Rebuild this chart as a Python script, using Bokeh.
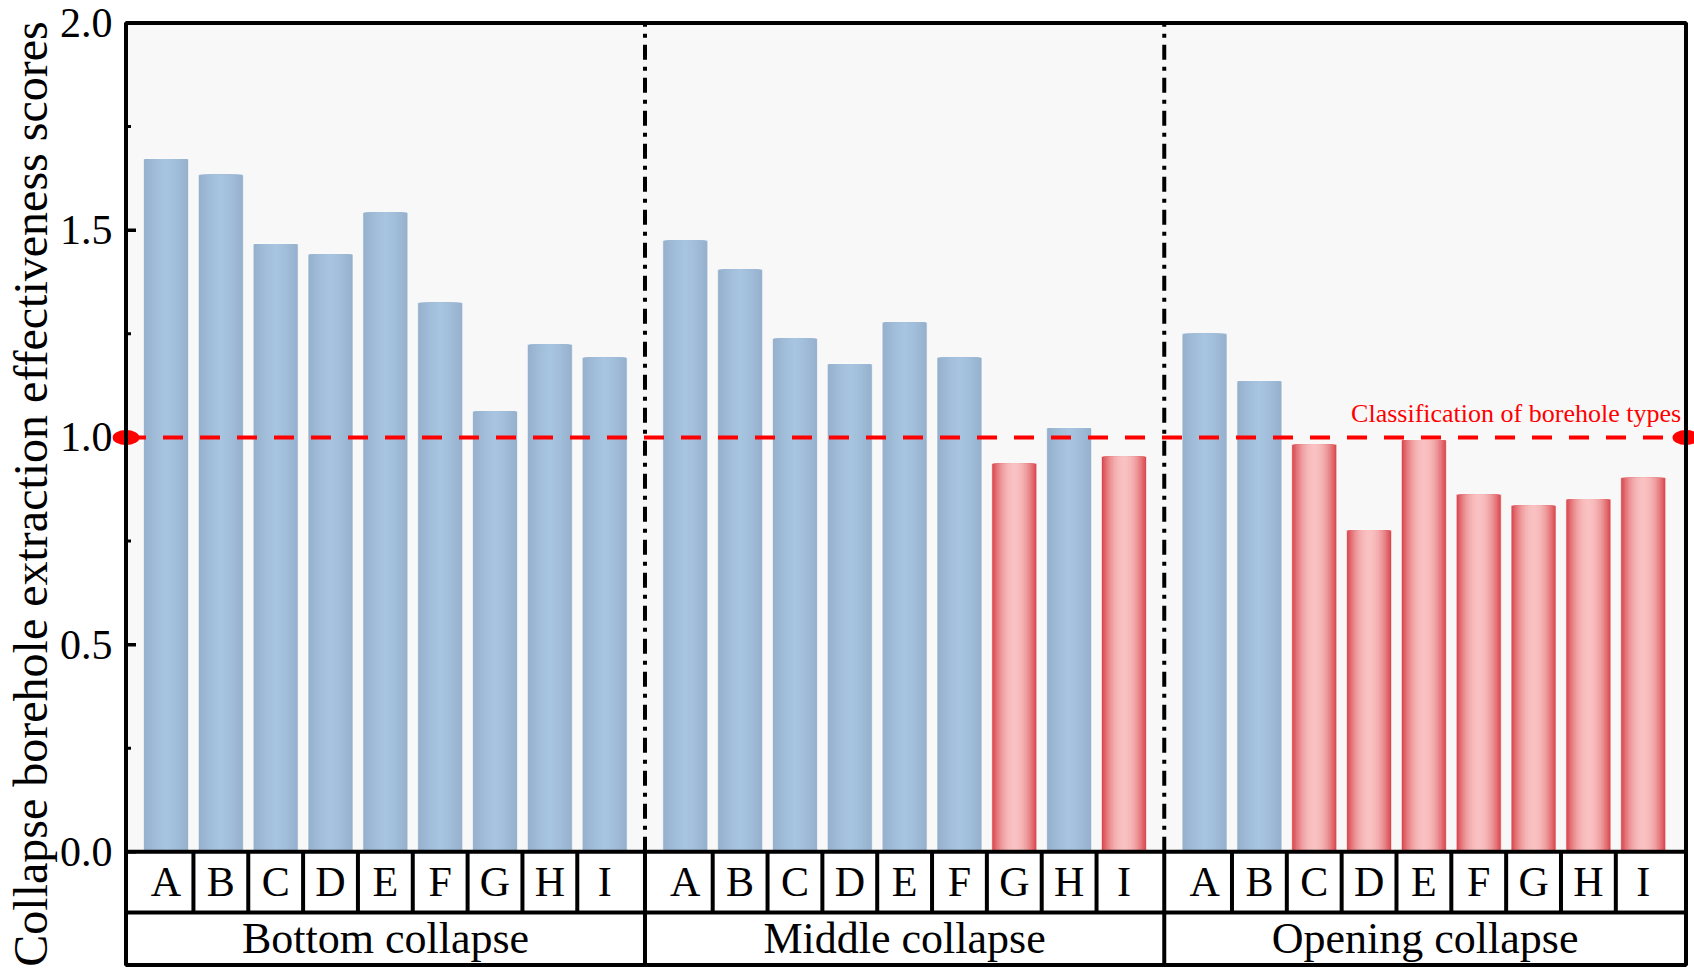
from bokeh.plotting import figure
from bokeh.models import Range1d, FixedTicker, PrintfTickFormatter, BoxAnnotation
from bokeh.core.properties import value
from bokeh.embed import file_html
from bokeh.resources import INLINE

# ---------------- data ----------------
groups = ["Bottom collapse", "Middle collapse", "Opening collapse"]
letters = ["A", "B", "C", "D", "E", "F", "G", "H", "I"]
bottom_vals = [1.672, 1.634, 1.467, 1.442, 1.543, 1.325, 1.063, 1.224, 1.193]
middle_vals = [1.475, 1.405, 1.239, 1.177, 1.278, 1.193, 0.937, 1.023, 0.954]
opening_vals = [1.250, 1.136, 0.983, 0.776, 0.994, 0.862, 0.836, 0.851, 0.903]
threshold = 1.0
threshold_label = "Classification of borehole types"
y_ticks = [0.0, 0.5, 1.0, 1.5, 2.0]
y_minor_ticks = [0.25, 0.75, 1.25, 1.75]
y_title = "Collapse borehole extraction effectiveness scores"

# ---------------- layout constants ----------------
FONT = "Liberation Serif"
PAD = 0.73          # axis -> first bar centre
GAP = 0.47          # extra gap between groups
BAR_W = 0.82
X_END = 28.45       # right border
Y_TOP = 2.0
ROW1 = -0.146       # bottom of letter row
ROW2 = -0.273       # bottom of group row
GSTEP = 9 + GAP
XL, XR = -0.246, X_END + 0.155   # frame a little wider than the box so the end markers show
EY = 0.006
PXU = 54.83                      # px per x unit (approx.)
MAJ_LEN, MIN_LEN = 10 / PXU, 5 / PXU

series = [bottom_vals, middle_vals, opening_vals]
xs, vals, labs = [], [], []
for g, sv in enumerate(series):
    for i, v in enumerate(sv):
        xs.append(PAD + g * GSTEP + i)
        vals.append(v)
        labs.append(letters[i])
seps = [PAD + g * GSTEP - (1 + GAP) / 2 for g in (1, 2)]
bounds = [0.0] + seps + [X_END]
centers = [(bounds[k] + bounds[k + 1]) / 2 for k in range(3)]

p = figure(width=1694, height=969, x_range=Range1d(XL, XR), y_range=Range1d(ROW2 - EY, Y_TOP + EY),
           x_axis_location=None, output_backend="svg", toolbar_location=None,
           min_border_top=20, min_border_bottom=2, min_border_right=0, min_border_left=112)
p.background_fill_color = "white"
p.border_fill_color = "white"
p.outline_line_color = None
p.grid.visible = False

# plot-area background
p.add_layout(BoxAnnotation(left=0, right=X_END, bottom=0, top=Y_TOP, fill_color="#f8f8f8",
                           fill_alpha=1, line_color=None, level="underlay"))

# ---------------- gradient bars ----------------
def mix(c1, c2, t):
    return "#%02x%02x%02x" % tuple(int(round(a + (b - a) * t)) for a, b in zip(c1, c2))

blue_c, blue_e = (0xa7, 0xc4, 0xe0), (0x95, 0xb0, 0xcc)
red_c, red_e = (0xf9, 0xc1, 0xc2), (0xd6, 0x40, 0x46)
N = 16
for k in range(N):
    frac = 1 - k / N
    t = 1 - (k + 0.5) / N
    cols = [mix(red_c, red_e, t ** 2.0) if v < threshold else mix(blue_c, blue_e, t ** 1.3) for v in vals]
    if k == 0:
        kw = dict(line_color="white", line_alpha=0.6, line_width=1)
    else:
        kw = dict(line_color=None)
    p.vbar(x=xs, top=vals, bottom=0, width=BAR_W * frac, fill_color=cols, **kw)

# ---------------- separators and box rows ----------------
p.segment(x0=seps, x1=seps, y0=[0] * 2, y1=[Y_TOP] * 2, line_color="black", line_width=4,
          line_dash="15 7 4 7")
p.segment(x0=seps, x1=seps, y0=[0] * 2, y1=[ROW2] * 2, line_color="black", line_width=4)
divs = [PAD + g * GSTEP + i + 0.5 for g in range(3) for i in range(8)]
p.segment(x0=divs, x1=divs, y0=[0] * len(divs), y1=[ROW1] * len(divs), line_color="black", line_width=4)
p.segment(x0=[0, 0], x1=[X_END, X_END], y0=[0, ROW1], y1=[0, ROW1], line_color="black", line_width=4)

p.text(x=xs, y=[ROW1 / 2] * len(xs), text=labs, text_align="center", text_baseline="middle",
       text_font=value(FONT), text_font_size="42px", text_color="black")
p.text(x=centers, y=[(ROW1 + ROW2) / 2] * 3, text=groups, text_align="center", text_baseline="middle",
       text_font=value(FONT), text_font_size="44px", text_color="black")

# ---------------- threshold line ----------------
p.segment(x0=[0], x1=[X_END], y0=[threshold], y1=[threshold], line_color="red", line_width=4,
          line_dash="20 17")
p.text(x=[X_END - 0.09], y=[threshold + 0.057], text=[threshold_label], text_align="right",
       text_baseline="alphabetic", text_font=value(FONT), text_font_size="26px", text_color="red")

# ---------------- border, axis line and tick marks ----------------
p.add_layout(BoxAnnotation(left=0, right=X_END, bottom=ROW2, top=Y_TOP, fill_alpha=0,
                           line_color="black", line_width=4, line_alpha=1))
p.segment(x0=[0] * len(y_ticks), x1=[MAJ_LEN] * len(y_ticks), y0=y_ticks, y1=y_ticks,
          line_color="black", line_width=3.5)
p.segment(x0=[0] * len(y_minor_ticks), x1=[MIN_LEN] * len(y_minor_ticks), y0=y_minor_ticks,
          y1=y_minor_ticks, line_color="black", line_width=3)

# red end markers of the threshold line
p.ellipse(x=[0, X_END], y=[threshold, threshold], width=27, height=15, width_units="screen",
          height_units="screen", fill_color="red", line_color=None)

# ---------------- y axis (labels only) ----------------
ax = p.yaxis[0]
ax.ticker = FixedTicker(ticks=y_ticks, minor_ticks=y_minor_ticks)
ax.formatter = PrintfTickFormatter(format="%.1f")
ax.axis_line_color = None
ax.major_tick_line_color = None
ax.minor_tick_line_color = None
ax.major_tick_in = 0
ax.major_tick_out = 0
ax.minor_tick_in = 0
ax.minor_tick_out = 0
ax.major_label_text_font = FONT
ax.major_label_text_font_size = "42px"
ax.major_label_text_color = "black"
ax.major_label_standoff = 0
ax.axis_label = y_title
ax.axis_label_text_font = FONT
ax.axis_label_text_font_size = "48px"
ax.axis_label_text_font_style = "normal"
ax.axis_label_text_color = "black"
ax.axis_label_standoff = 0

open("out.html", "w").write(file_html(p, INLINE))
